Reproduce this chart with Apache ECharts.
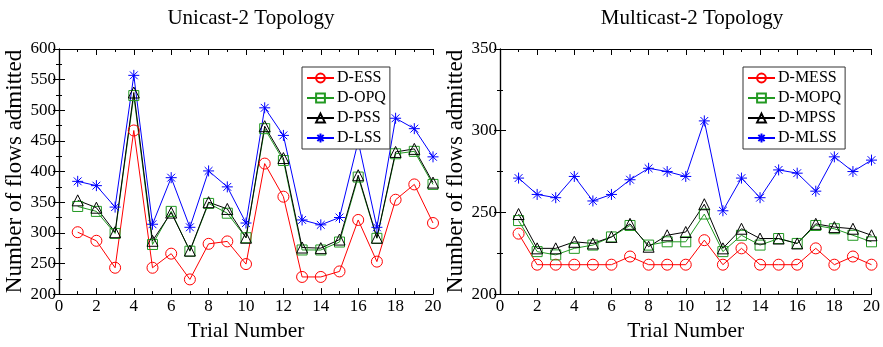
<!DOCTYPE html>
<html>
<head>
<meta charset="utf-8">
<script src="https://cdn.jsdelivr.net/npm/echarts@6/dist/echarts.min.js"></script>
<style>
  html, body { margin: 0; padding: 0; background: #fff; }
  #chart { width: 883px; height: 347px; }
</style>
</head>
<body>
<div id="chart"></div>
<script>
const trials = [1,2,3,4,5,6,7,8,9,10,11,12,13,14,15,16,17,18,19,20];

// Unicast-2 topology
const dESS = [301,287,243,467,243,266,224,282,286,249,413,359,228,228,237,321,253,354,379,316];
const dOPQ = [343,335,299,524,281,335,270,348,332,292,470,418,272,272,285,391,291,429,433,379];
const dPSS = [353,341,301,529,287,333,271,350,339,292,474,422,276,275,289,394,292,432,437,382];
const dLSS = [384,377,342,557,314,390,309,401,375,316,504,459,321,313,325,449,309,487,470,424];

// Multicast-2 topology
const dMESS = [237,218,218,218,218,218,223,218,218,218,233,218,228,218,218,218,228,218,223,218];
const dMOPQ = [245,226,224,228,230,235,242,230,232,232,249,226,236,230,234,231,242,240,236,232];
const dMPSS = [249,228,228,232,231,235,243,229,236,238,255,228,240,234,234,231,243,241,240,236];
const dMLSS = [271,261,259,272,257,261,270,277,275,272,306,251,271,259,276,274,263,284,275,282];

const FONT = 'Liberation Serif';
const RED = '#ff0000', GREEN = '#229922', BLACK = '#000000', BLUE = '#0000ff';
const STAR = 'path://M0,-10L0,10M-10,0L10,0M-7.1,-7.1L7.1,7.1M-7.1,7.1L7.1,-7.1';

function pts(vals) {
  return trials.map((t, i) => [t, vals[i]]);
}

function mkSeries(name, vals, color, symbol, gi) {
  return {
    name: name,
    type: 'line',
    xAxisIndex: gi * 2,
    yAxisIndex: gi * 2,
    data: pts(vals),
    symbol: symbol,
    symbolSize: symbol === 'rect' ? 10 : 11,
    showAllSymbol: true,
    lineStyle: { color: color, width: 1 },
    itemStyle: { color: 'rgba(0,0,0,0)', borderColor: color, borderWidth: 1 },
    emphasis: { disabled: true },
    animation: false
  };
}

function xAxes(gi, name) {
  const base = {
    gridIndex: gi, type: 'value', min: 0, max: 20, interval: 2,
    axisLine: { lineStyle: { color: '#000', width: 1.2 } },
    axisTick: { inside: true, length: 6, lineStyle: { color: '#000' } },
    minorTick: { show: true, splitNumber: 2, length: 3, lineStyle: { color: '#000' } },
    splitLine: { show: false }
  };
  return [
    Object.assign({}, base, {
      position: 'bottom',
      name: name, nameLocation: 'middle', nameGap: 22,
      nameTextStyle: { fontFamily: FONT, fontSize: 21.5, color: '#000' },
      axisLabel: { fontFamily: FONT, fontSize: 17, color: '#000', margin: 4 }
    }),
    Object.assign({}, base, { position: 'top', axisLabel: { show: false } })
  ];
}

function yAxes(gi, min, max, name) {
  const base = {
    gridIndex: gi, type: 'value', min: min, max: max, interval: 50,
    axisLine: { show: true, lineStyle: { color: '#000', width: 1.2 } },
    axisTick: { show: true, inside: true, length: 6, lineStyle: { color: '#000' } },
    minorTick: { show: true, splitNumber: 2, length: 3, lineStyle: { color: '#000' } },
    splitLine: { show: false }
  };
  return [
    Object.assign({}, base, {
      position: 'left',
      name: name, nameLocation: 'middle', nameGap: 25,
      nameTextStyle: { fontFamily: FONT, fontSize: 23, color: '#000' },
      axisLabel: { fontFamily: FONT, fontSize: 17, color: '#000', margin: 3 }
    }),
    Object.assign({}, base, { position: 'right', axisLabel: { show: false } })
  ];
}

function mkLegend(names, left) {
  return {
    orient: 'vertical', left: left, top: 67,
    data: names,
    itemWidth: 27, itemHeight: 11, itemGap: 4,
    padding: [3, 4, 3, 4],
    borderColor: '#333', borderWidth: 1, backgroundColor: '#fff',
    textStyle: { fontFamily: FONT, fontSize: 16, color: '#000', padding: [0, 0, 0, -2] },
    selectedMode: false
  };
}

const chart = echarts.init(document.getElementById('chart'), null, { renderer: 'canvas' });
chart.setOption({
  backgroundColor: '#fff',
  animation: false,
  title: [
    { text: 'Unicast-2 Topology', left: 246, top: 3, textAlign: 'center',
      textStyle: { fontFamily: FONT, fontSize: 21, fontWeight: 'normal', color: '#000' } },
    { text: 'Multicast-2 Topology', left: 687, top: 3, textAlign: 'center',
      textStyle: { fontFamily: FONT, fontSize: 21, fontWeight: 'normal', color: '#000' } }
  ],
  grid: [
    { left: 59, top: 49, width: 374, height: 260 },
    { left: 500, top: 49, width: 374, height: 260 }
  ],
  xAxis: xAxes(0, 'Trial Number').concat(xAxes(1, 'Trial Number')),
  yAxis: yAxes(0, 200, 600, 'Number of flows admitted').concat(yAxes(1, 200, 350, 'Number of flows admitted')),
  legend: [
    mkLegend(['D-ESS', 'D-OPQ', 'D-PSS', 'D-LSS'], 302),
    mkLegend(['D-MESS', 'D-MOPQ', 'D-MPSS', 'D-MLSS'], 743)
  ],
  series: [
    mkSeries('D-ESS', dESS, RED, 'circle', 0),
    mkSeries('D-OPQ', dOPQ, GREEN, 'rect', 0),
    mkSeries('D-PSS', dPSS, BLACK, 'triangle', 0),
    mkSeries('D-LSS', dLSS, BLUE, STAR, 0),
    mkSeries('D-MESS', dMESS, RED, 'circle', 1),
    mkSeries('D-MOPQ', dMOPQ, GREEN, 'rect', 1),
    mkSeries('D-MPSS', dMPSS, BLACK, 'triangle', 1),
    mkSeries('D-MLSS', dMLSS, BLUE, STAR, 1)
  ]
});
</script>
</body>
</html>
